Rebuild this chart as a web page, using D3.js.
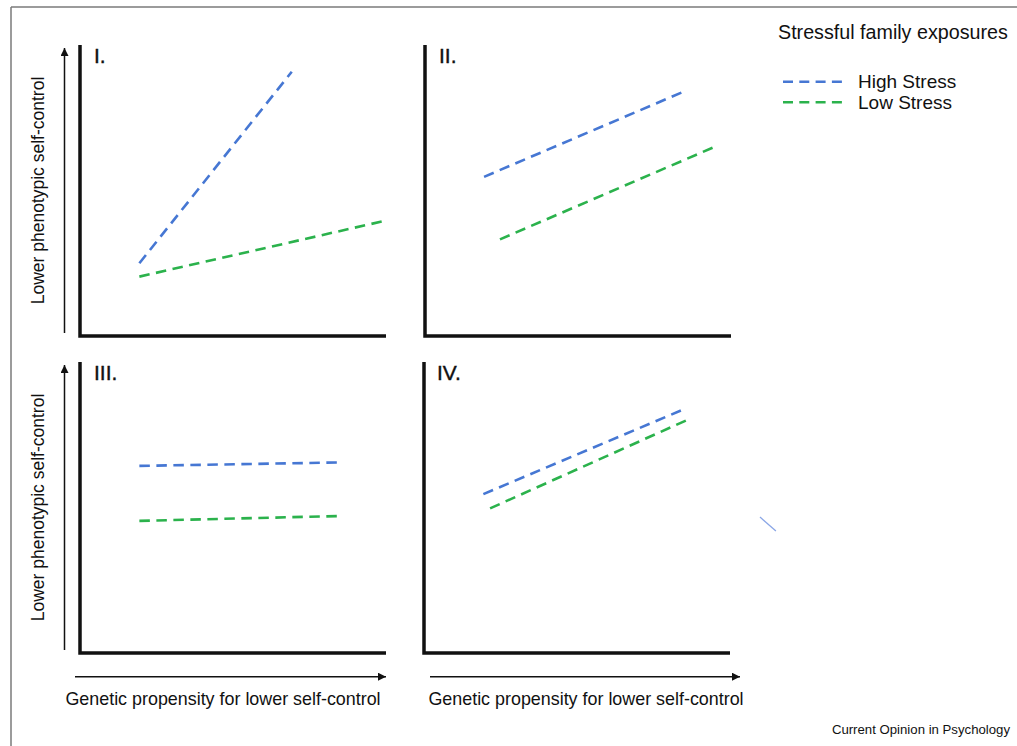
<!DOCTYPE html>
<html><head><meta charset="utf-8">
<script src="https://cdn.jsdelivr.net/npm/d3@7/dist/d3.min.js"></script>
<style>
html,body{margin:0;padding:0;background:#fff;}
text{font-family:"Liberation Sans",Arial,Helvetica,sans-serif;fill:#111;}
</style></head><body>
<svg id="chart" width="1017" height="746"></svg>
<script>
// ---- data (abstract units 0..10 on both axes) ----
const panelLabels = ["I.", "II.", "III.", "IV."];
const seriesNames = ["High Stress", "Low Stress"];
const seriesColors = ["#4677d3", "#2bb24c"];
// each series: [x0, y0, x1, y1]
const highStress = [
  [1.94, 2.50, 6.92, 9.08],
  [1.93, 5.47, 8.46, 8.40],
  [1.94, 6.43, 8.58, 6.55],
  [1.94, 5.46, 8.50, 8.38]
];
const lowStress = [
  [1.94, 2.04, 9.97, 3.96],
  [2.45, 3.32, 9.42, 6.48],
  [1.94, 4.54, 8.58, 4.71],
  [2.16, 4.97, 8.67, 8.04]
];
const strayMark = [10.98, 4.67, 11.50, 4.19]; // small stray stroke next to panel IV
const yAxisTitle = "Lower phenotypic self-control";
const xAxisTitle = "Genetic propensity for lower self-control";
const legendTitle = "Stressful family exposures";
const sourceNote = "Current Opinion in Psychology";

// ---- layout ----
const svg = d3.select("#chart");
const W = 306, H = 291;
const origins = [[80, 336], [425, 336], [80, 653], [424, 653]]; // bottom-left corners
const x = d3.scaleLinear().domain([0, 10]).range([0, W]);
const y = d3.scaleLinear().domain([0, 10]).range([H, 0]);

// outer frame (top and left edge)
svg.append("line").attr("x1", 11).attr("x2", 1017).attr("y1", 7).attr("y2", 7)
  .attr("stroke", "#7a7a7a").attr("stroke-width", 1.5);
svg.append("line").attr("x1", 11).attr("x2", 11).attr("y1", 7).attr("y2", 746)
  .attr("stroke", "#7a7a7a").attr("stroke-width", 1.5);

const defs = svg.append("defs");
defs.append("marker").attr("id", "arrow").attr("viewBox", "0 0 10 10")
  .attr("refX", 10).attr("refY", 5).attr("markerWidth", 10).attr("markerHeight", 8)
  .attr("markerUnits", "userSpaceOnUse").attr("orient", "auto")
  .append("path").attr("d", "M0,0 L10,5 L0,10 Z").attr("fill", "#111");

const dash = "10.5,6.5";

origins.forEach((o, i) => {
  const g = svg.append("g").attr("transform", `translate(${o[0]},${o[1] - H})`);
  // thick L-shaped axes
  g.append("path")
    .attr("d", `M${x(0)},${y(10)} L${x(0)},${y(0)} L${x(10)},${y(0)}`)
    .attr("fill", "none").attr("stroke", "#111").attr("stroke-width", 3.5)
    .attr("stroke-linejoin", "miter");
  // panel label
  g.append("text").attr("x", x(0) + (i === 3 ? 13 : 14)).attr("y", y(10) + 17.5)
    .attr("font-size", 21).attr("stroke", "#111").attr("stroke-width", 0.4)
    .text(panelLabels[i]);
  // series lines
  [highStress[i], lowStress[i]].forEach((s, k) => {
    g.append("line")
      .attr("x1", x(s[0])).attr("y1", y(s[1]))
      .attr("x2", x(s[2])).attr("y2", y(s[3]))
      .attr("stroke", seriesColors[k]).attr("stroke-width", 2.6)
      .attr("stroke-dasharray", dash);
  });
  // y arrow and title for left column
  if (i % 2 === 0) {
    g.append("line").attr("x1", -15.5).attr("x2", -15.5)
      .attr("y1", y(0) - 3).attr("y2", y(10) + 3)
      .attr("stroke", "#111").attr("stroke-width", 1.5).attr("marker-end", "url(#arrow)");
    g.append("text")
      .attr("transform", `translate(-42,${(y(0) + y(10)) / 2 + 0}) rotate(-90)`)
      .attr("text-anchor", "middle").attr("dy", "0.35em")
      .attr("font-size", 17.5).text(yAxisTitle);
  }
  // x arrow and title for bottom row
  if (i >= 2) {
    g.append("line").attr("x1", i === 2 ? -5 : 6).attr("x2", i === 2 ? W : W + 10)
      .attr("y1", y(0) + 23.7).attr("y2", y(0) + 23.7)
      .attr("stroke", "#111").attr("stroke-width", 1.5).attr("marker-end", "url(#arrow)");
    g.append("text").attr("x", i === 2 ? W / 2 - 10 : W / 2 + 9).attr("y", y(0) + 52)
      .attr("text-anchor", "middle").attr("font-size", 17.9).text(xAxisTitle);
  }
  if (i === 3) {
    g.append("line")
      .attr("x1", x(strayMark[0])).attr("y1", y(strayMark[1]))
      .attr("x2", x(strayMark[2])).attr("y2", y(strayMark[3]))
      .attr("stroke", "#8aa6e6").attr("stroke-width", 1.3);
  }
});

// legend
const lg = svg.append("g").attr("transform", "translate(778,0)");
lg.append("text").attr("x", 0).attr("y", 39).attr("font-size", 19.7).text(legendTitle);
seriesNames.forEach((n, k) => {
  const yy = 81.7 + k * 20.5;
  lg.append("line").attr("x1", 5).attr("x2", 64).attr("y1", yy).attr("y2", yy)
    .attr("stroke", seriesColors[k]).attr("stroke-width", 2.6).attr("stroke-dasharray", "10,6.3");
  lg.append("text").attr("x", 80).attr("y", yy + 6.3).attr("font-size", 19).text(n);
});

// source note
svg.append("text").attr("x", 1010).attr("y", 734).attr("text-anchor", "end")
  .attr("font-size", 13.2).text(sourceNote);
</script>
</body></html>
